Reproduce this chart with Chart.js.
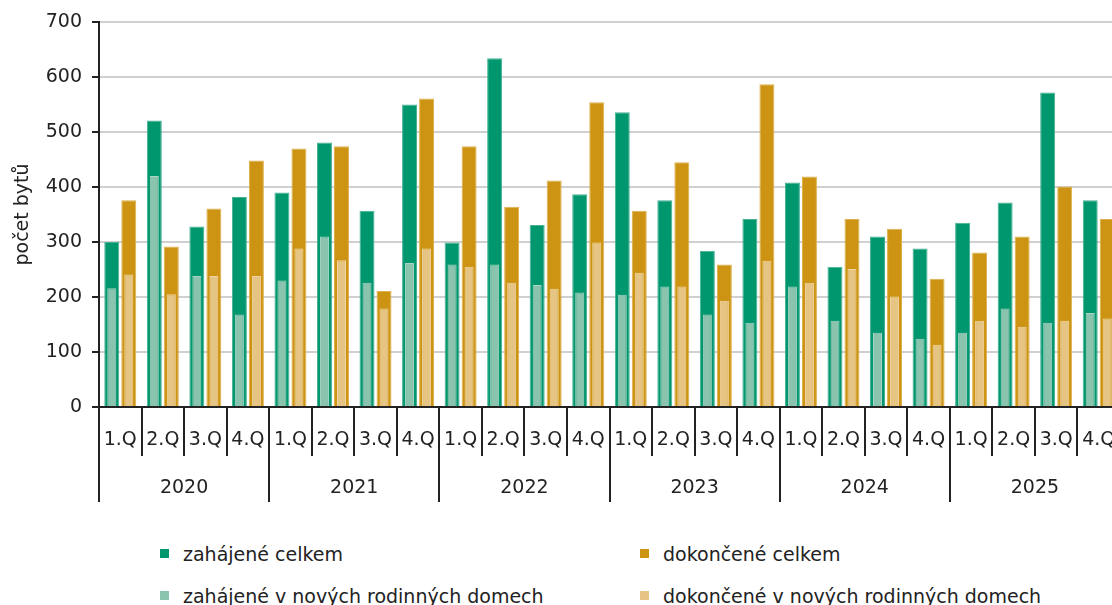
<!DOCTYPE html>
<html lang="cs">
<head>
<meta charset="utf-8">
<title>Zahájené a dokončené byty</title>
<script src="https://cdn.jsdelivr.net/npm/chart.js@4.4.1/dist/chart.umd.min.js"></script>
<style>
html, body { margin: 0; padding: 0; width: 1112px; height: 605px; overflow: hidden; background: #fff; }
#wrap { position: relative; width: 1112px; height: 605px; overflow: hidden; }
#chart { position: absolute; left: 0; top: 0; }
.leg { position: absolute; font-family: "DejaVu Sans", sans-serif; font-size: 19px; line-height: 22px; color: #222; white-space: nowrap; }
.leg i { position: absolute; left: -23px; top: 6px; width: 9px; height: 9px; }
</style>
</head>
<body>
<div id="wrap">
  <canvas id="chart" width="1120" height="520"></canvas>
  <div class="leg" style="left:183px; top:543px;"><i style="background:#00966e"></i>zahájené celkem</div>
  <div class="leg" style="left:663px; top:543px;"><i style="background:#cc9412"></i>dokončené celkem</div>
  <div class="leg" style="left:183px; top:585px;"><i style="background:#8bc4ae"></i>zahájené v nových rodinných domech</div>
  <div class="leg" style="left:663px; top:585px;"><i style="background:#e6c483"></i>dokončené v nových rodinných domech</div>
</div>
<script>
const quarters = ['1.Q', '2.Q', '3.Q', '4.Q'];
const years = ['2020', '2021', '2022', '2023', '2024', '2025'];

// počet bytů po čtvrtletích 2020 1.Q – 2025 4.Q
const zahajeneCelkem = [300, 521, 328, 382, 390, 481, 357, 550, 299, 634, 331, 387,
                        536, 376, 284, 342, 408, 255, 310, 288, 335, 372, 572, 376];
const dokonceneCelkem = [376, 292, 361, 448, 470, 474, 211, 561, 474, 364, 412, 554,
                         357, 445, 259, 587, 419, 342, 324, 233, 281, 310, 401, 342];
const zahajeneRD = [216, 420, 238, 168, 230, 310, 226, 262, 259, 259, 222, 208,
                    204, 219, 168, 153, 219, 157, 135, 124, 135, 179, 153, 171];
const dokonceneRD = [241, 205, 238, 238, 288, 267, 179, 288, 255, 226, 215, 299,
                     244, 219, 193, 266, 226, 251, 201, 113, 157, 146, 157, 161];

const labels = [];
years.forEach(() => quarters.forEach(q => labels.push(q)));

const txt = '#222';
const font = { family: '"DejaVu Sans", sans-serif', size: 19, lineHeight: 1.2 };

new Chart(document.getElementById('chart'), {
    type: 'bar',
    data: {
        labels: labels,
        datasets: [
            { label: 'zahájené v nových rodinných domech', data: zahajeneRD, stack: 'z', order: 0,
              backgroundColor: '#8bc4ae', borderColor: '#a8d5c4', borderWidth: 1, barPercentage: 0.53 },
            { label: 'dokončené v nových rodinných domech', data: dokonceneRD, stack: 'd', order: 0,
              backgroundColor: '#e6c483', borderColor: '#efd5a4', borderWidth: 1, barPercentage: 0.53 },
            { label: 'zahájené celkem', data: zahajeneCelkem, stack: 'z', order: 1,
              backgroundColor: '#00966e', borderColor: '#45b092', borderWidth: 1, barPercentage: 0.88 },
            { label: 'dokončené celkem', data: dokonceneCelkem, stack: 'd', order: 1,
              backgroundColor: '#cc9412', borderColor: '#deb04c', borderWidth: 1, barPercentage: 0.88 }
        ]
    },
    options: {
        responsive: false,
        animation: false,
        categoryPercentage: 0.8,
        layout: { padding: { top: 22, right: 0, bottom: 18, left: 0 } },
        plugins: { legend: { display: false }, tooltip: { enabled: false } },
        scales: {
            y: {
                min: 0, max: 700, stacked: false,
                ticks: { stepSize: 100, color: txt, font: font, padding: 10 },
                grid: { color: '#d0d0d0', lineWidth: 2, tickColor: txt, tickLength: 7 },
                border: { color: txt, width: 2 },
                title: { display: true, text: 'počet bytů', color: txt, font: font, padding: { top: 12, bottom: 0 } },
                afterFit: s => { s.width = 99; }
            },
            x: {
                weight: 0,
                offset: true,
                grid: { offset: true, drawOnChartArea: false, color: txt, lineWidth: 2, tickLength: 49 },
                border: { color: txt, width: 2 },
                ticks: { color: txt, font: font, padding: -27, maxRotation: 0, autoSkip: false },
                afterFit: s => { s.height = 49; }
            },
            roky: {
                type: 'category',
                labels: years,
                position: 'bottom',
                weight: 1,
                offset: true,
                grid: { offset: true, drawOnChartArea: false, color: txt, lineWidth: 2, tickLength: 46 },
                border: { display: false },
                ticks: { color: txt, font: font, padding: -25, maxRotation: 0, autoSkip: false },
                afterFit: s => { s.height = 46; }
            }
        }
    }
});
</script>
</body>
</html>
